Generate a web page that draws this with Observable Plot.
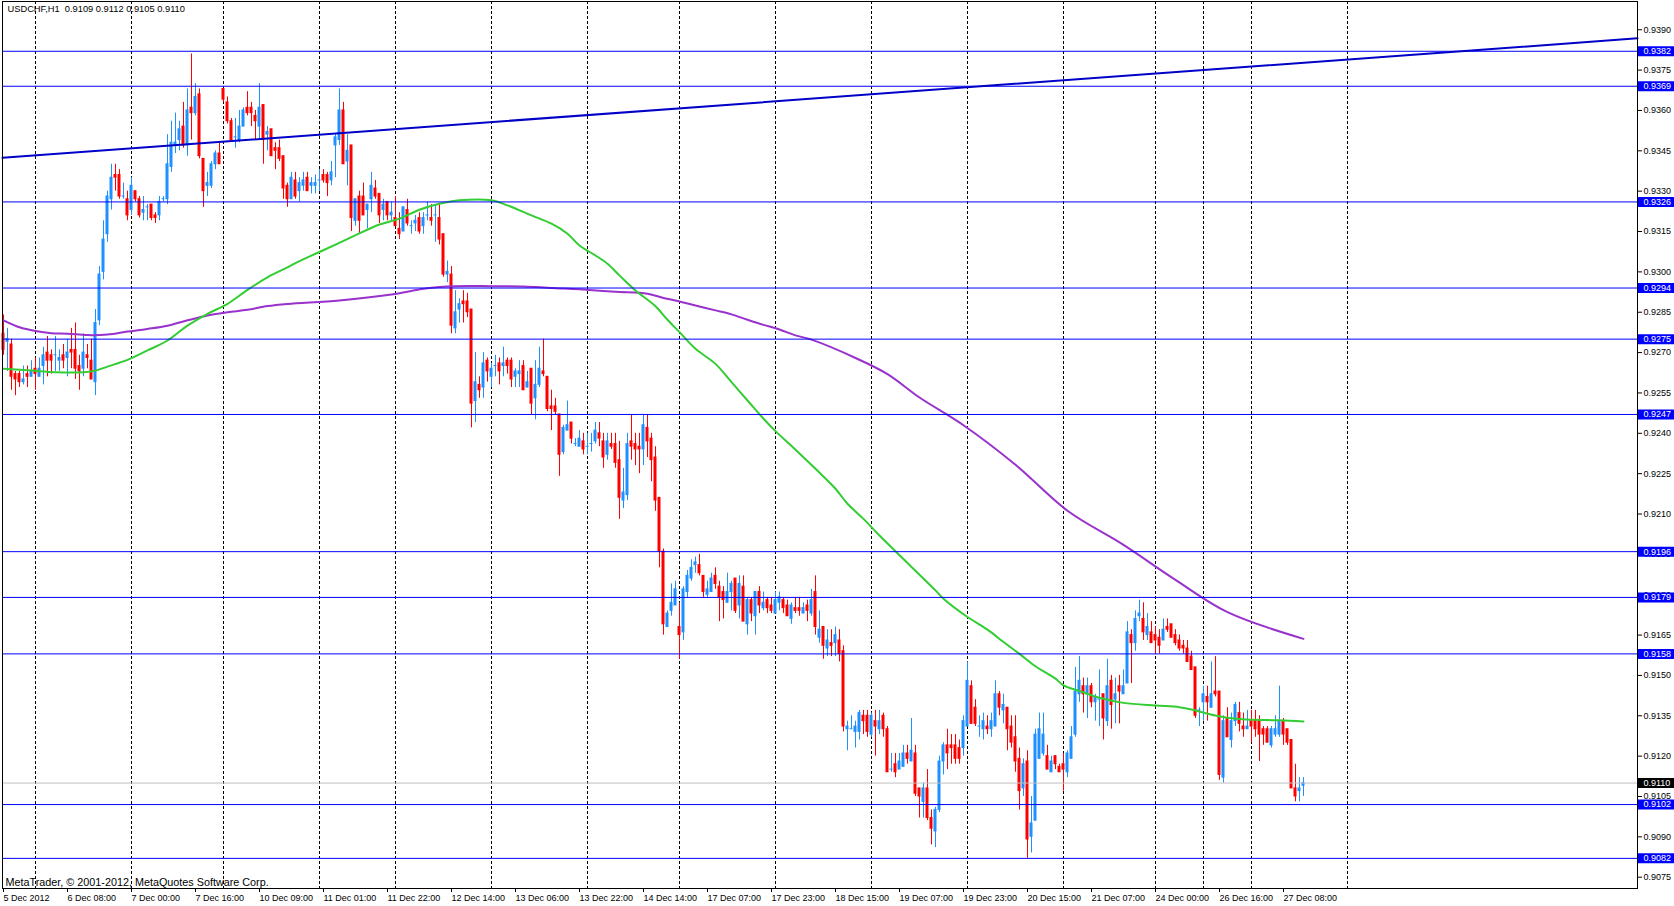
<!DOCTYPE html>
<html><head><meta charset="utf-8">
<script src="https://cdn.jsdelivr.net/npm/d3@7"></script>
<script src="https://cdn.jsdelivr.net/npm/@observablehq/plot@0.6"></script>
<style>html,body{margin:0;padding:0;background:#fff}svg{display:block}</style>
</head><body><div id="chart"></div>
<script>
// Hourly USDCHF bars (index 0 = first visible bar)
const opens = [
.9277,.9274,.9273,.9262,.9262,.9259,.9262,.9261,.9264,.9261,
.9265,.9270,.9269,.9269,.9267,.9269,.9268,.9271,.9271,.9265,
.9264,.9269,.9267,.9259,.9282,.9300,.9314,.9327,.9336,.9336,
.9328,.9327,.9323,.9330,.9327,.9322,.9324,.9325,.9321,.9321,
.9327,.9327,.9339,.9347,.9349,.9354,.9347,.9361,.9359,.9366,
.9342,.9332,.9332,.9340,.9344,.9368,.9363,.9356,.9350,.9349,
.9354,.9361,.9361,.9358,.9354,.9362,.9351,.9353,.9346,.9346,
.9343,.9332,.9327,.9334,.9330,.9332,.9335,.9332,.9332,.9334,
.9336,.9336,.9334,.9347,.9349,.9360,.9341,.9347,.9319,.9328,
.9328,.9323,.9327,.9331,.9329,.9323,.9326,.9321,.9320,.9316,
.9315,.9323,.9317,.9318,.9320,.9317,.9321,.9320,.9321,.9320,
.9314,.9299,.9299,.9279,.9286,.9289,.9289,.9286,.9252,.9258,
.9257,.9267,.9261,.9265,.9266,.9265,.9267,.9267,.9261,.9262,
.9265,.9257,.9264,.9253,.9258,.9263,.9261,.9250,.9250,.9247,
.9233,.9241,.9244,.9236,.9235,.9237,.9235,.9236,.9237,.9240,
.9237,.9232,.9236,.9236,.9230,.9215,.9217,.9237,.9236,.9235,
.9234,.9242,.9238,.9231,.9216,.9196,.9168,.9174,.9176,.9168,
.9166,.9181,.9186,.9191,.9191,.9187,.9180,.9181,.9187,.9183,
.9181,.9177,.9181,.9186,.9176,.9183,.9169,.9178,.9172,.9181,
.9175,.9178,.9176,.9173,.9177,.9178,.9176,.9171,.9175,.9175,
.9173,.9176,.9173,.9181,.9164,.9168,.9160,.9162,.9162,.9163,
.9159,.9130,.9130,.9129,.9129,.9135,.9135,.9128,.9133,.9130,
.9135,.9130,.9115,.9117,.9115,.9116,.9121,.9118,.9121,.9108,
.9103,.9108,.9097,.9092,.9100,.9118,.9124,.9124,.9124,.9123,
.9123,.9131,.9146,.9138,.9131,.9130,.9131,.9130,.9131,.9143,
.9137,.9138,.9131,.9127,.9119,.9108,.9118,.9090,.9096,.9119,
.9121,.9120,.9114,.9120,.9116,.9117,.9114,.9119,.9128,.9143,
.9146,.9143,.9146,.9140,.9141,.9143,.9133,.9148,.9141,.9146,
.9143,.9147,.9165,.9162,.9172,.9171,.9165,.9166,.9165,.9164,
.9163,.9168,.9169,.9165,.9163,.9161,.9160,.9157,.9153,.9137,
.9140,.9142,.9138,.9144,.9144,.9112,.9134,.9126,.9133,.9136,
.9131,.9130,.9133,.9133,.9133,.9130,.9130,.9124,.9128,.9128,
.9133,.9130,.9126,.9108,.9107,.9109];
const highs = [
.9284,.9279,.9275,.9263,.9263,.9265,.9265,.9267,.9268,.9268,
.9272,.9276,.9271,.9276,.9271,.9273,.9275,.9279,.9281,.9269,
.9277,.9273,.9275,.9286,.9302,.9319,.9330,.9340,.9340,.9338,
.9333,.9330,.9335,.9330,.9328,.9328,.9325,.9325,.9322,.9328,
.9328,.9351,.9356,.9359,.9356,.9363,.9368,.9381,.9370,.9368,
.9342,.9337,.9341,.9345,.9348,.9368,.9365,.9357,.9357,.9360,
.9361,.9367,.9363,.9360,.9370,.9362,.9354,.9353,.9348,.9349,
.9343,.9333,.9337,.9337,.9335,.9337,.9337,.9335,.9336,.9338,
.9338,.9337,.9341,.9351,.9368,.9363,.9351,.9347,.9327,.9330,
.9333,.9325,.9337,.9334,.9329,.9327,.9326,.9326,.9328,.9322,
.9324,.9327,.9319,.9321,.9322,.9322,.9326,.9325,.9325,.9325,
.9314,.9304,.9302,.9293,.9290,.9293,.9292,.9286,.9270,.9261,
.9270,.9268,.9266,.9269,.9268,.9272,.9268,.9268,.9264,.9267,
.9267,.9263,.9264,.9267,.9272,.9275,.9261,.9256,.9253,.9247,
.9243,.9252,.9244,.9238,.9241,.9240,.9240,.9240,.9244,.9244,
.9240,.9240,.9240,.9240,.9237,.9227,.9240,.9247,.9240,.9240,
.9247,.9247,.9240,.9235,.9216,.9197,.9174,.9184,.9185,.9177,
.9183,.9189,.9193,.9194,.9195,.9187,.9185,.9188,.9190,.9185,
.9183,.9188,.9185,.9186,.9187,.9187,.9179,.9179,.9181,.9183,
.9181,.9179,.9179,.9181,.9181,.9179,.9178,.9177,.9179,.9179,
.9177,.9178,.9182,.9187,.9174,.9168,.9167,.9167,.9168,.9167,
.9161,.9133,.9135,.9133,.9137,.9137,.9137,.9136,.9137,.9137,
.9136,.9131,.9121,.9121,.9121,.9124,.9124,.9134,.9124,.9108,
.9110,.9115,.9100,.9101,.9120,.9125,.9130,.9128,.9128,.9126,
.9135,.9155,.9148,.9141,.9135,.9136,.9135,.9136,.9148,.9144,
.9143,.9138,.9135,.9135,.9123,.9119,.9122,.9105,.9130,.9136,
.9136,.9124,.9120,.9120,.9117,.9121,.9122,.9131,.9153,.9157,
.9149,.9149,.9147,.9143,.9152,.9143,.9156,.9150,.9149,.9150,
.9152,.9170,.9167,.9174,.9178,.9177,.9173,.9170,.9168,.9167,
.9171,.9171,.9169,.9167,.9165,.9163,.9163,.9159,.9153,.9138,
.9146,.9146,.9155,.9157,.9144,.9135,.9138,.9136,.9140,.9140,
.9136,.9137,.9137,.9137,.9135,.9131,.9131,.9131,.9135,.9146,
.9134,.9130,.9126,.9117,.9112,.9112];
const lows = [
.9269,.9263,.9256,.9254,.9257,.9258,.9257,.9261,.9256,.9261,
.9258,.9261,.9262,.9263,.9263,.9264,.9261,.9264,.9260,.9256,
.9261,.9264,.9260,.9254,.9280,.9297,.9311,.9323,.9330,.9327,
.9327,.9319,.9321,.9326,.9320,.9319,.9319,.9319,.9318,.9319,
.9326,.9325,.9337,.9344,.9345,.9346,.9343,.9349,.9358,.9342,
.9324,.9328,.9331,.9338,.9340,.9363,.9355,.9349,.9346,.9348,
.9354,.9358,.9354,.9349,.9349,.9340,.9345,.9343,.9338,.9341,
.9327,.9324,.9327,.9327,.9326,.9330,.9330,.9329,.9329,.9330,
.9333,.9328,.9332,.9335,.9347,.9340,.9332,.9315,.9317,.9314,
.9321,.9316,.9322,.9327,.9318,.9319,.9319,.9319,.9317,.9312,
.9315,.9317,.9314,.9315,.9314,.9314,.9319,.9317,.9311,.9310,
.9298,.9296,.9277,.9277,.9281,.9281,.9283,.9242,.9244,.9253,
.9253,.9259,.9257,.9261,.9258,.9261,.9262,.9257,.9257,.9257,
.9256,.9257,.9247,.9245,.9257,.9261,.9248,.9241,.9247,.9224,
.9232,.9241,.9236,.9235,.9235,.9232,.9232,.9233,.9236,.9235,
.9227,.9230,.9234,.9227,.9208,.9212,.9215,.9230,.9228,.9225,
.9228,.9231,.9222,.9211,.9190,.9165,.9168,.9172,.9176,.9156,
.9163,.9179,.9185,.9188,.9187,.9179,.9179,.9181,.9182,.9170,
.9171,.9177,.9174,.9173,.9171,.9170,.9165,.9170,.9165,.9173,
.9174,.9173,.9173,.9173,.9174,.9173,.9172,.9169,.9173,.9172,
.9173,.9170,.9172,.9165,.9162,.9156,.9157,.9157,.9157,.9155,
.9129,.9122,.9130,.9123,.9126,.9128,.9127,.9127,.9120,.9128,
.9127,.9114,.9114,.9112,.9115,.9116,.9117,.9118,.9105,.9097,
.9097,.9096,.9087,.9086,.9099,.9113,.9115,.9117,.9117,.9117,
.9120,.9131,.9132,.9131,.9127,.9126,.9128,.9127,.9131,.9135,
.9132,.9122,.9123,.9114,.9100,.9105,.9082,.9084,.9096,.9119,
.9120,.9115,.9114,.9115,.9114,.9107,.9112,.9119,.9127,.9140,
.9136,.9134,.9138,.9133,.9131,.9126,.9131,.9130,.9132,.9132,
.9143,.9147,.9147,.9159,.9170,.9163,.9163,.9162,.9158,.9158,
.9163,.9166,.9164,.9161,.9159,.9158,.9155,.9152,.9134,.9131,
.9133,.9133,.9138,.9142,.9111,.9110,.9127,.9123,.9131,.9129,
.9127,.9130,.9125,.9127,.9118,.9124,.9125,.9123,.9127,.9127,
.9124,.9124,.9108,.9103,.9103,.9105];
const closes = [
.9271,.9275,.9261,.9260,.9259,.9260,.9261,.9263,.9262,.9264,
.9269,.9267,.9267,.9269,.9268,.9267,.9270,.9270,.9264,.9263,
.9270,.9268,.9260,.9281,.9299,.9312,.9328,.9335,.9335,.9328,
.9328,.9321,.9332,.9327,.9321,.9323,.9324,.9320,.9320,.9326,
.9327,.9340,.9348,.9348,.9353,.9347,.9360,.9359,.9365,.9343,
.9330,.9333,.9340,.9344,.9340,.9364,.9356,.9349,.9350,.9354,
.9360,.9359,.9359,.9356,.9361,.9349,.9352,.9343,.9345,.9342,
.9331,.9327,.9335,.9328,.9333,.9334,.9330,.9333,.9333,.9334,
.9334,.9333,.9337,.9350,.9360,.9340,.9345,.9320,.9327,.9319,
.9321,.9325,.9332,.9328,.9321,.9325,.9321,.9322,.9317,.9314,
.9324,.9318,.9317,.9319,.9315,.9320,.9321,.9319,.9321,.9312,
.9299,.9300,.9280,.9285,.9288,.9288,.9285,.9251,.9259,.9256,
.9266,.9263,.9264,.9265,.9263,.9266,.9265,.9260,.9263,.9263,
.9256,.9259,.9251,.9258,.9264,.9262,.9249,.9249,.9248,.9232,
.9242,.9243,.9238,.9236,.9238,.9234,.9235,.9236,.9241,.9238,
.9231,.9237,.9235,.9229,.9216,.9218,.9236,.9235,.9234,.9234,
.9243,.9237,.9230,.9215,.9196,.9169,.9173,.9177,.9182,.9165,
.9182,.9187,.9190,.9192,.9188,.9181,.9182,.9186,.9184,.9179,
.9178,.9181,.9184,.9174,.9184,.9170,.9178,.9173,.9181,.9176,
.9177,.9175,.9174,.9178,.9179,.9175,.9172,.9176,.9174,.9174,
.9175,.9174,.9178,.9168,.9167,.9161,.9163,.9161,.9165,.9158,
.9131,.9131,.9130,.9131,.9136,.9133,.9129,.9135,.9131,.9133,
.9130,.9114,.9115,.9114,.9118,.9121,.9119,.9122,.9106,.9105,
.9108,.9097,.9093,.9100,.9118,.9124,.9121,.9123,.9119,.9119,
.9133,.9148,.9132,.9132,.9131,.9133,.9130,.9133,.9143,.9138,
.9139,.9130,.9125,.9118,.9107,.9117,.9089,.9095,.9128,.9130,
.9128,.9115,.9118,.9117,.9114,.9115,.9121,.9127,.9144,.9148,
.9143,.9146,.9140,.9142,.9141,.9134,.9146,.9139,.9143,.9144,
.9146,.9166,.9162,.9171,.9173,.9166,.9168,.9162,.9163,.9161,
.9167,.9167,.9164,.9162,.9160,.9160,.9155,.9152,.9135,.9137,
.9143,.9140,.9143,.9143,.9113,.9133,.9127,.9133,.9139,.9132,
.9130,.9131,.9131,.9130,.9128,.9128,.9125,.9130,.9130,.9133,
.9128,.9125,.9108,.9105,.9108,.9110];

// Moving averages (bar index, price)
const greenIdx = [0,7,13,20,23,26,31,36,41,46,51,56,61,66,71,74,79,87,94,99,104,109,114,122,126,132,137,141,144,148,151,154,158,163,166,169,173,178,182,186,190,193,198,203,208,211,215,219,233,235,241,246,250,254,258,263,265,269,274,280,288,294,298,303,308,313,319,325];
const greenVal = [.9264,.92633,.92627,.92627,.92633,.92648,.92673,.92708,.92745,.9280,.92844,.92881,.92933,.9298,.93017,.9304,.93074,.93129,.93176,.93198,.93231,.93253,.93266,.93266,.93247,.9321,.93179,.93142,.93098,.93061,.9303,.92987,.92931,.92872,.92822,.92776,.92714,.92658,.9259,.92522,.92454,.92408,.92339,.92268,.92194,.92138,.92082,.9202,.91816,.91785,.91717,.9167,.91624,.9158,.91534,.91488,.91463,.91442,.91417,.91398,.91388,.91382,.9137,.91351,.91339,.91335,.91333,.91329];
const purpleIdx = [0,4,8,12,16,21,26,31,36,41,46,51,56,61,66,71,84,97,105,109,113,122,130,137,144,153,161,165,169,173,178,182,186,190,194,198,202,213,221,229,240,253,266,280,293,306,325];
const purpleVal = [.9282,.92794,.9278,.92772,.9277,.92765,.92767,.92778,.92788,.9280,.9282,.92838,.9285,.92859,.92873,.92881,.92894,.92916,.92937,.92944,.92947,.92947,.92946,.9294,.92935,.92926,.92919,.92903,.9289,.92875,.92857,.92842,.92822,.92803,.92786,.92764,.92748,.9268,.9262,.92533,.9243,.92283,.92112,.91985,.91855,.91735,.91636];

// Trend line anchors (bar index, price)
const trendIdx = [-0.25, 408.5];
const trendVal = [0.93424, 0.93868];

// Horizontal levels and current bid
const levels = [0.9382, 0.9369, 0.9326, 0.9294, 0.9275, 0.9247, 0.9196, 0.9179, 0.9158, 0.9102, 0.9082];
const bid = 0.9110;

// Vertical dashed separators (bar index)
const gridIdx = [8,32,55,79,98,122,146,169,193,217,241,265,288,300,312,336];

// Axis ticks
const priceTicks = [0.9075,0.9090,0.9105,0.9120,0.9135,0.9150,0.9165,0.9180,0.9195,0.9210,0.9225,0.9240,0.9255,0.9270,0.9285,0.9300,0.9315,0.9330,0.9345,0.9360,0.9375,0.9390];
const dateIdx = [0,16,32,48,64,80,96,112,128,144,160,176,192,208,224,240,256,272,288,304,320];
const dateLabels = ["5 Dec 2012","6 Dec 08:00","7 Dec 00:00","7 Dec 16:00","10 Dec 09:00","11 Dec 01:00","11 Dec 22:00","12 Dec 14:00","13 Dec 06:00","13 Dec 22:00","14 Dec 14:00","17 Dec 07:00","17 Dec 23:00","18 Dec 15:00","19 Dec 07:00","19 Dec 23:00","20 Dec 15:00","21 Dec 07:00","24 Dec 00:00","26 Dec 16:00","27 Dec 08:00"];

const symbol = "USDCHF,H1";
const copyright = "MetaTrader, \u00A9 2001-2012, MetaQuotes Software Corp.";

const bars = opens.map((o, i) => ({i, o, h: highs[i], l: lows[i], c: closes[i]}));
const last = bars[bars.length - 1];
const f4 = v => v.toFixed(4);
const titleText = `${symbol}\u00A0\u00A0${f4(last.o)} ${f4(last.h)} ${f4(last.l)} ${f4(last.c)}`;
const BULL = "#1E90FF", BEAR = "#FF0000";
const col = d => d.c >= d.o ? BULL : BEAR;
const green = greenIdx.map((x, k) => ({x, y: greenVal[k]}));
const purple = purpleIdx.map((x, k) => ({x, y: purpleVal[k]}));
const trend = trendIdx.map((x, k) => ({x, y: trendVal[k]}));
const labelMap = new Map(dateIdx.map((d, k) => [d, dateLabels[k]]));
const FONT = "'Liberation Sans', Arial, sans-serif";

const chart = Plot.plot({
  width: 1674, height: 906,
  marginLeft: 2, marginRight: 37, marginTop: 1, marginBottom: 18,
  x: {type: "linear", domain: [-0.25, 408.5]},
  y: {type: "linear", domain: [0.90708, 0.94005]},
  color: {type: "identity"},
  style: {fontFamily: FONT, fontSize: "9px", color: "#000", background: "#fff", overflow: "visible"},
  marks: [
    Plot.ruleX(gridIdx, {x: d => d, stroke: "#000", strokeWidth: 1, strokeDasharray: "3,2"}),
    Plot.ruleX(bars, {x: "i", y1: "l", y2: "h", stroke: col, strokeWidth: 1}),
    Plot.rect(bars, {x1: d => d.i - 0.375, x2: d => d.i + 0.375, y1: "o", y2: "c", fill: col, insetTop: -0.5, insetBottom: -0.5}),
    Plot.line(purple, {x: "x", y: "y", stroke: "#9932CC", strokeWidth: 2, curve: "catmull-rom"}),
    Plot.line(green, {x: "x", y: "y", stroke: "#32CD32", strokeWidth: 2, curve: "catmull-rom"}),
    Plot.ruleY([bid], {stroke: "#C0C0C0", strokeWidth: 1}),
    Plot.ruleY(levels, {stroke: "#0000FF", strokeWidth: 1}),
    Plot.line(trend, {x: "x", y: "y", stroke: "#0000C8", strokeWidth: 2}),
    Plot.frame({stroke: "#000"}),
    Plot.axisY(priceTicks, {anchor: "right", tickSize: 4, tickPadding: 2, tickFormat: f4, label: null, fontSize: 9, fill: "#000"}),
    Plot.axisX(dateIdx, {anchor: "bottom", tickSize: 4, tickPadding: 2, tickFormat: d => labelMap.get(d), textAnchor: "start", label: null, fontSize: 9, fill: "#000"}),
    Plot.ruleY(levels, {y: d => d, x1: 408.75, x2: 418, stroke: "#0000FF", strokeWidth: 10}),
    Plot.text(levels, {x: 410, y: d => d, text: d => f4(d), fill: "#fff", textAnchor: "start", fontSize: 9}),
    Plot.ruleY([bid], {y: d => d, x1: 408.75, x2: 418, stroke: "#000", strokeWidth: 10}),
    Plot.text([bid], {x: 410, y: d => d, text: d => f4(d), fill: "#fff", textAnchor: "start", fontSize: 9}),
    Plot.text([titleText], {frameAnchor: "top-left", dx: 5, dy: 4, lineAnchor: "top", textAnchor: "start", fontSize: 9.3, fill: "#000"}),
    Plot.text([copyright], {frameAnchor: "bottom-left", dx: 3, dy: -3, lineAnchor: "bottom", textAnchor: "start", fontSize: 10.8, fill: "#000"})
  ]
});
document.getElementById("chart").appendChild(chart);
</script>
</body></html>
